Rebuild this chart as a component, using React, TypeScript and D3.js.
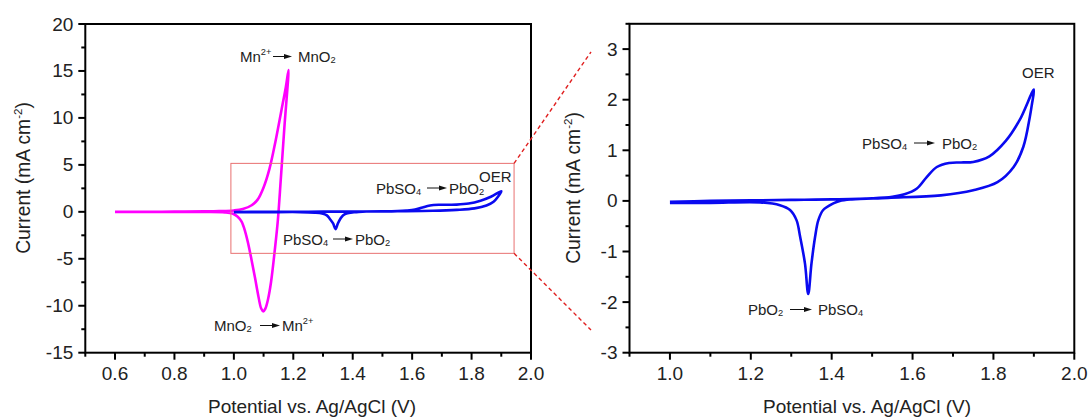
import React from "react";
import * as d3 from "d3";

// ---- Data ----
// Mn2+/MnO2 cyclic voltammogram (potential V, current mA cm^-2), forward then reverse
const mnPotential = [0.6, 0.7, 0.8, 0.9, 0.95, 1.0, 1.03, 1.06, 1.08, 1.1, 1.12, 1.14, 1.16, 1.175, 1.184,
  1.17, 1.158, 1.148, 1.138, 1.125, 1.115, 1.106, 1.099, 1.092, 1.082, 1.071, 1.06, 1.049, 1.038, 1.026, 1.012, 0.995, 0.97, 0.9, 0.8, 0.6];
const mnCurrent = [0.0, 0.0, 0.02, 0.05, 0.08, 0.15, 0.3, 0.7, 1.3, 2.6, 4.6, 7.5, 10.8, 13.3, 15.1,
  9.0, 3.5, -0.9, -4.0, -7.5, -9.3, -10.3, -10.6, -10.3, -8.9, -7.0, -5.2, -3.5, -2.1, -1.05, -0.5, -0.18, -0.06, -0.02, 0.0, 0.0];

// PbSO4/PbO2 cyclic voltammogram, forward then reverse
const pbPotential = [1.0, 1.1, 1.2, 1.3, 1.4, 1.5, 1.55, 1.58, 1.61, 1.635, 1.66, 1.69, 1.72, 1.75, 1.79, 1.83, 1.865, 1.9,
  1.895, 1.89, 1.874, 1.85, 1.81, 1.75, 1.67, 1.54, 1.45, 1.42, 1.404, 1.379, 1.367, 1.359, 1.35, 1.342, 1.334, 1.322, 1.313, 1.297, 1.272, 1.223, 1.1, 1.0];
const pbCurrent = [-0.02, 0.0, 0.01, 0.02, 0.03, 0.05, 0.08, 0.13, 0.24, 0.47, 0.67, 0.75, 0.76, 0.77, 0.88, 1.18, 1.6, 2.2,
  1.9, 1.66, 1.07, 0.67, 0.37, 0.21, 0.11, 0.06, 0.03, 0.0, -0.05, -0.18, -0.38, -0.71, -1.24, -1.84, -1.24, -0.71, -0.38, -0.18, -0.085, -0.03, -0.04, -0.04];

// Axis ticks
const leftXTicks = [0.6, 0.8, 1.0, 1.2, 1.4, 1.6, 1.8, 2.0];
const leftXMinor = [0.5, 0.7, 0.9, 1.1, 1.3, 1.5, 1.7, 1.9];
const leftYTicks = [-15, -10, -5, 0, 5, 10, 15, 20];
const leftYMinor = [-12.5, -7.5, -2.5, 2.5, 7.5, 12.5, 17.5];
const rightXTicks = [1.0, 1.2, 1.4, 1.6, 1.8, 2.0];
const rightXMinor = [0.9, 1.1, 1.3, 1.5, 1.7, 1.9];
const rightYTicks = [-3, -2, -1, 0, 1, 2, 3];
const rightYMinor = [-2.5, -1.5, -0.5, 0.5, 1.5, 2.5, 3.5];

// Zoom box (data coords in left panel)
const zoomBoxX = [0.99, 1.943];
const zoomBoxY = [-4.42, 5.16];

const FONT = "Arial, 'Liberation Sans', Helvetica, sans-serif";
const TXT = "#222";

type Part = { t: string; sub?: boolean; sup?: boolean };

function Chem({ x, y, parts, size = 15 }: { x: number; y: number; parts: Part[]; size?: number }) {
  let shift = 0;
  const spans: React.ReactNode[] = [];
  parts.forEach((p, i) => {
    let target = 0;
    if (p.sub) target = 1;
    if (p.sup) target = -7;
    const dy = target - shift;
    shift = target;
    spans.push(
      <tspan key={i} dy={dy} fontSize={p.sub || p.sup ? size * 0.62 : size}>{p.t}</tspan>
    );
  });
  return (
    <text x={x} y={y} fontFamily={FONT} fill={TXT} fontSize={size}>{spans}</text>
  );
}

function Reaction({ lx, ax1, ax2, rx, y, left, right }: { lx: number; ax1: number; ax2: number; rx: number; y: number; left: Part[]; right: Part[] }) {
  return (
    <g>
      <Chem x={lx} y={y} parts={left} />
      <line x1={ax1} x2={ax2 - 6} y1={y - 5.5} y2={y - 5.5} stroke="#111" strokeWidth={1} />
      <path d={`M${ax2},${y - 5.5} L${ax2 - 8},${y - 8} L${ax2 - 8},${y - 3} Z`} fill="#111" />
      <Chem x={rx} y={y} parts={right} />
    </g>
  );
}

function Panel({ xs, ys, xTicks, xMinor, yTicks, yMinor, xFmt, curves, xTitleX, yTitleX, yTitleY }: any) {
  const [x0, x1] = xs.range();
  const [y0, y1] = ys.range(); // y0 bottom, y1 top
  const line = d3.line<[number, number]>().x((d) => xs(d[0])).y((d) => ys(d[1])).curve(d3.curveCatmullRom.alpha(0.5));
  const clipId = "clip" + Math.round(x0);
  return (
    <g>
      <defs>
        <clipPath id={clipId}><rect x={x0} y={y1} width={x1 - x0} height={y0 - y1} /></clipPath>
      </defs>
      <g clipPath={`url(#${clipId})`}>
        {curves.map((c: any, i: number) => (
          <path key={i} d={line(c.v.map((v: number, j: number) => [v, c.i[j]] as [number, number])) || ""} fill="none" stroke={c.color} strokeWidth={2.6} strokeLinejoin="round" />
        ))}
      </g>
      <rect x={x0} y={y1} width={x1 - x0} height={y0 - y1} fill="none" stroke="#000" strokeWidth={2} />
      {xTicks.map((t: number) => (
        <g key={"xt" + t}>
          <line x1={xs(t)} x2={xs(t)} y1={y0} y2={y0 + 7} stroke="#000" strokeWidth={2} />
          <text x={xs(t)} y={y0 + 27} textAnchor="middle" fontFamily={FONT} fontSize={19} fill={TXT}>{xFmt(t)}</text>
        </g>
      ))}
      {xMinor.map((t: number) => (
        <line key={"xm" + t} x1={xs(t)} x2={xs(t)} y1={y0} y2={y0 + 4} stroke="#000" strokeWidth={2} />
      ))}
      {yTicks.map((t: number) => (
        <g key={"yt" + t}>
          <line x1={x0} x2={x0 - 7} y1={ys(t)} y2={ys(t)} stroke="#000" strokeWidth={2} />
          <text x={x0 - 12} y={ys(t) + 6.5} textAnchor="end" fontFamily={FONT} fontSize={19} fill={TXT}>{t}</text>
        </g>
      ))}
      {yMinor.map((t: number) => (
        <line key={"ym" + t} x1={x0} x2={x0 - 4} y1={ys(t)} y2={ys(t)} stroke="#000" strokeWidth={2} />
      ))}
      <text x={xTitleX} y={413} textAnchor="middle" fontFamily={FONT} fontSize={19} fill={TXT}>Potential vs. Ag/AgCl (V)</text>
      <text transform={`translate(${yTitleX},${yTitleY}) rotate(-90)`} textAnchor="middle" fontFamily={FONT} fontSize={19.3} fill={TXT}>
        Current (mA cm<tspan dy={-8} fontSize={11.5}>-2</tspan><tspan dy={8}>)</tspan>
      </text>
    </g>
  );
}

export default function App() {
  const xL = d3.scaleLinear().domain([0.5, 2.0]).range([85.3, 531]);
  const yL = d3.scaleLinear().domain([-15, 20]).range([352.7, 24]);
  const xR = d3.scaleLinear().domain([0.9, 2.0]).range([629.5, 1074.3]);
  const yR = d3.scaleLinear().domain([-3, 3.5]).range([352.7, 23.8]);
  const fmt = d3.format(".1f");

  const mn = { v: mnPotential, i: mnCurrent, color: "#ff00ff" };
  const pb = { v: pbPotential, i: pbCurrent, color: "#0a0af0" };

  const bx0 = xL(zoomBoxX[0]), bx1 = xL(zoomBoxX[1]);
  const by0 = yL(zoomBoxY[1]), by1 = yL(zoomBoxY[0]);

  return (
    <svg width={1091} height={417} style={{ position: "absolute", left: 0, top: 0, background: "#fff" }}>
      <rect width={1091} height={417} fill="#fff" />
      <Panel xs={xL} ys={yL} xTicks={leftXTicks} xMinor={leftXMinor} yTicks={leftYTicks} yMinor={leftYMinor}
        xFmt={fmt} curves={[mn, pb]} xTitleX={312} yTitleX={30} yTitleY={178} />
      <Panel xs={xR} ys={yR} xTicks={rightXTicks} xMinor={rightXMinor} yTicks={rightYTicks} yMinor={rightYMinor}
        xFmt={fmt} curves={[pb]} xTitleX={867} yTitleX={580} yTitleY={188} />

      {/* zoom box and connector lines */}
      <rect x={bx0} y={by0} width={bx1 - bx0} height={by1 - by0} fill="none" stroke="#e87070" strokeWidth={1} />
      <line x1={bx1} y1={by0} x2={591} y2={52} stroke="#e02020" strokeWidth={1.4} strokeDasharray="4,3" />
      <line x1={bx1} y1={by1} x2={591} y2={330} stroke="#e02020" strokeWidth={1.4} strokeDasharray="4,3" />

      {/* left annotations */}
      <Reaction lx={240} ax1={273} ax2={292} rx={298} y={62} left={[{ t: "Mn" }, { t: "2+", sup: true }]} right={[{ t: "MnO" }, { t: "2", sub: true }]} />
      <Reaction lx={376} ax1={427} ax2={447} rx={449} y={193.5} left={[{ t: "PbSO" }, { t: "4", sub: true }]} right={[{ t: "PbO" }, { t: "2", sub: true }]} />
      <Chem x={479} y={182} parts={[{ t: "OER" }]} />
      <Reaction lx={283} ax1={333} ax2={353} rx={355} y={244.5} left={[{ t: "PbSO" }, { t: "4", sub: true }]} right={[{ t: "PbO" }, { t: "2", sub: true }]} />
      <Reaction lx={214} ax1={260} ax2={280} rx={282} y={331} left={[{ t: "MnO" }, { t: "2", sub: true }]} right={[{ t: "Mn" }, { t: "2+", sup: true }]} />

      {/* right annotations */}
      <Chem x={1022} y={78} parts={[{ t: "OER" }]} />
      <Reaction lx={862} ax1={914} ax2={935} rx={942} y={148.5} left={[{ t: "PbSO" }, { t: "4", sub: true }]} right={[{ t: "PbO" }, { t: "2", sub: true }]} />
      <Reaction lx={748} ax1={790} ax2={812} rx={818} y={315} left={[{ t: "PbO" }, { t: "2", sub: true }]} right={[{ t: "PbSO" }, { t: "4", sub: true }]} />
    </svg>
  );
}
